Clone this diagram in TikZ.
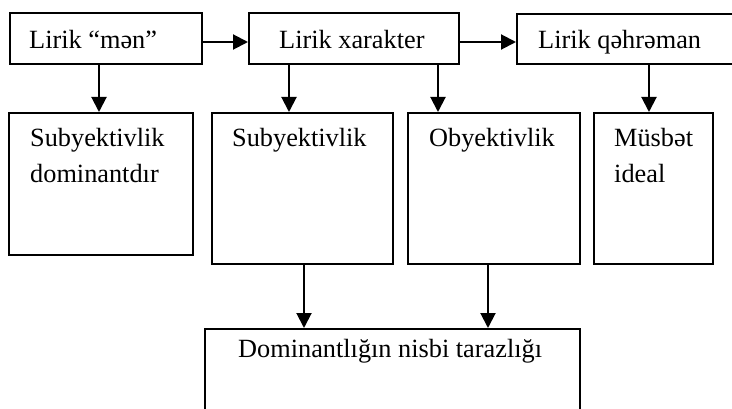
\documentclass[tikz,border=0pt]{standalone}
\usepackage{fontspec}
\setmainfont{Liberation Serif}
\usetikzlibrary{arrows.meta}
\begin{document}
\begin{tikzpicture}[x=1pt,y=-1pt,
  box/.style={draw,line width=1.8pt,rectangle,anchor=north west,inner sep=0pt},
  txt/.style={anchor=base west,inner sep=0pt,font=\fontsize{26.3}{31}\selectfont},
  arr/.style={line width=2pt,-{Triangle[length=15pt,width=15pt]}}]
\useasboundingbox (0,0) rectangle (732,409);
% top row
\node[box,minimum width=192pt,minimum height=51pt] (b1) at (9,12) {};
\node[box,minimum width=210pt,minimum height=51pt] (b2) at (248,12) {};
\node[box,minimum width=230pt,minimum height=50pt] (b3) at (516,13) {};
\node[txt] (t1) at (29,49) {Lirik “mən”};
\node[txt] (t2) at (279,49) {Lirik xarakter};
\node[txt] (t3) at (538,49) {Lirik qəhrəman};
% second row
\node[box,minimum width=184pt,minimum height=142pt] (c1) at (8,112) {};
\node[box,minimum width=181pt,minimum height=151pt] (c2) at (211,112) {};
\node[box,minimum width=172pt,minimum height=151pt] (c3) at (407,112) {};
\node[box,minimum width=119pt,minimum height=151pt] (c4) at (593,112) {};
\node[txt] (u1) at (30,147) {Subyektivlik};
\node[txt] (u2) at (30,183) {dominantdır};
\node[txt] (u3) at (232,147) {Subyektivlik};
\node[txt] (u4) at (429,147) {Obyektivlik};
\node[txt] (u5) at (614,147) {Müsbət};
\node[txt] (u6) at (614,183) {ideal};
% bottom
\node[box,minimum width=375pt,minimum height=100pt] (d) at (204,328) {};
\node[txt] (v1) at (238,357) {Dominantlığın nisbi tarazlığı};
% arrows
\draw[arr] (b1.east|-0,42) -- (b2.west|-0,42);
\draw[arr] (b2.east|-0,42) -- (b3.west|-0,42);
\draw[arr] (99,0|-b1.south) -- (99,0|-c1.north);
\draw[arr] (289,0|-b2.south) -- (289,0|-c2.north);
\draw[arr] (438,0|-b2.south) -- (438,0|-c3.north);
\draw[arr] (649,0|-b3.south) -- (649,0|-c4.north);
\draw[arr] (304,0|-c2.south) -- (304,0|-d.north);
\draw[arr] (488,0|-c3.south) -- (488,0|-d.north);
\end{tikzpicture}
\end{document}
